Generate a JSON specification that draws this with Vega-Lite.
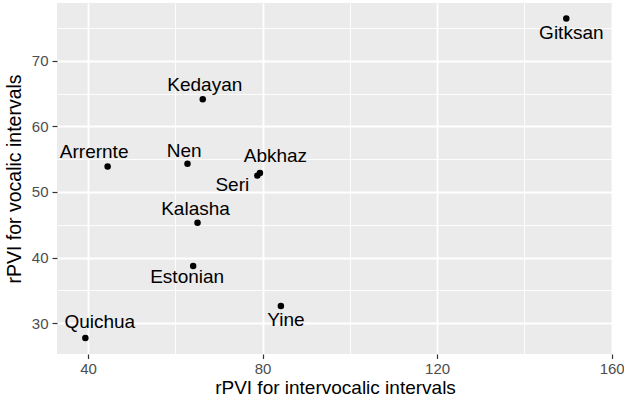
{
  "$schema": "https://vega.github.io/schema/vega-lite/v6.json",
  "width": 556,
  "height": 351,
  "autosize": {"type": "none"},
  "padding": {"left": 57, "top": 3, "right": 11, "bottom": 48},
  "background": "white",
  "config": {
    "view": {"fill": "#EBEBEB", "stroke": null},
    "font": "Liberation Sans"
  },
  "data": {
    "values": [
      {"lang": "Gitksan", "x": 149.6, "y": 76.5},
      {"lang": "Kedayan", "x": 66.3, "y": 64.15},
      {"lang": "Arrernte", "x": 44.5, "y": 53.9},
      {"lang": "Nen", "x": 62.8, "y": 54.3},
      {"lang": "Abkhaz", "x": 79.4, "y": 52.9},
      {"lang": "Seri", "x": 78.8, "y": 52.5},
      {"lang": "Kalasha", "x": 65.1, "y": 45.3},
      {"lang": "Estonian", "x": 64.1, "y": 38.7},
      {"lang": "Yine", "x": 84.2, "y": 32.6},
      {"lang": "Quichua", "x": 39.4, "y": 27.7}
    ]
  },
  "encoding": {
    "x": {
      "field": "x", "type": "quantitative",
      "scale": {"domain": [32.9, 160.3], "nice": false, "zero": false},
      "axis": {
        "title": "rPVI for intervocalic intervals",
        "values": [40, 60, 80, 100, 120, 140, 160],
        "grid": true, "gridColor": "white",
        "gridWidth": {"condition": {"test": "datum.value % 40 === 0", "value": 1.8}, "value": 0.9},
        "domain": false,
        "tickSize": 4.5, "tickWidth": 1.2,
        "tickColor": {"condition": {"test": "datum.value % 40 === 0", "value": "#333333"}, "value": "transparent"},
        "labelExpr": "datum.value % 40 === 0 ? datum.label : ''",
        "labelFontSize": 15, "labelColor": "#4D4D4D", "labelPadding": 2.5,
        "titleFontSize": 19, "titleFontWeight": "normal", "titleColor": "black", "titlePadding": 2
      }
    },
    "y": {
      "field": "y", "type": "quantitative",
      "scale": {"domain": [25.27, 78.85], "nice": false, "zero": false},
      "axis": {
        "title": "rPVI for vocalic intervals",
        "values": [30, 35, 40, 45, 50, 55, 60, 65, 70, 75],
        "grid": true, "gridColor": "white",
        "gridWidth": {"condition": {"test": "datum.value % 10 === 0", "value": 1.8}, "value": 0.9},
        "domain": false,
        "tickSize": 5, "tickWidth": 1.2,
        "tickColor": {"condition": {"test": "datum.value % 10 === 0", "value": "#333333"}, "value": "transparent"},
        "labelExpr": "datum.value % 10 === 0 ? datum.label : ''",
        "labelFontSize": 15, "labelColor": "#4D4D4D", "labelPadding": 4,
        "titleFontSize": 19.5, "titleFontWeight": "normal", "titleColor": "black", "titlePadding": 7
      }
    }
  },
  "layer": [
    {"mark": {"type": "point", "filled": true, "color": "black", "opacity": 1, "size": 42}},
    {"transform": [{"filter": "datum.lang === 'Gitksan'"}], "mark": {"type": "text", "fontSize": 19, "dx": 5, "dy": 15}, "encoding": {"text": {"field": "lang"}}},
    {"transform": [{"filter": "datum.lang === 'Kedayan'"}], "mark": {"type": "text", "fontSize": 19, "dx": 2, "dy": -14}, "encoding": {"text": {"field": "lang"}}},
    {"transform": [{"filter": "datum.lang === 'Arrernte'"}], "mark": {"type": "text", "fontSize": 19, "dx": -13.5, "dy": -14}, "encoding": {"text": {"field": "lang"}}},
    {"transform": [{"filter": "datum.lang === 'Nen'"}], "mark": {"type": "text", "fontSize": 19, "dx": -3.4, "dy": -13}, "encoding": {"text": {"field": "lang"}}},
    {"transform": [{"filter": "datum.lang === 'Abkhaz'"}], "mark": {"type": "text", "fontSize": 19, "dx": 15.5, "dy": -17}, "encoding": {"text": {"field": "lang"}}},
    {"transform": [{"filter": "datum.lang === 'Seri'"}], "mark": {"type": "text", "fontSize": 19, "dx": -25, "dy": 9}, "encoding": {"text": {"field": "lang"}}},
    {"transform": [{"filter": "datum.lang === 'Kalasha'"}], "mark": {"type": "text", "fontSize": 19, "dx": -2, "dy": -14}, "encoding": {"text": {"field": "lang"}}},
    {"transform": [{"filter": "datum.lang === 'Estonian'"}], "mark": {"type": "text", "fontSize": 19, "dx": -6, "dy": 11}, "encoding": {"text": {"field": "lang"}}},
    {"transform": [{"filter": "datum.lang === 'Yine'"}], "mark": {"type": "text", "fontSize": 19, "dx": 5, "dy": 14}, "encoding": {"text": {"field": "lang"}}},
    {"transform": [{"filter": "datum.lang === 'Quichua'"}], "mark": {"type": "text", "fontSize": 19, "dx": 14.4, "dy": -16}, "encoding": {"text": {"field": "lang"}}}
  ]
}
